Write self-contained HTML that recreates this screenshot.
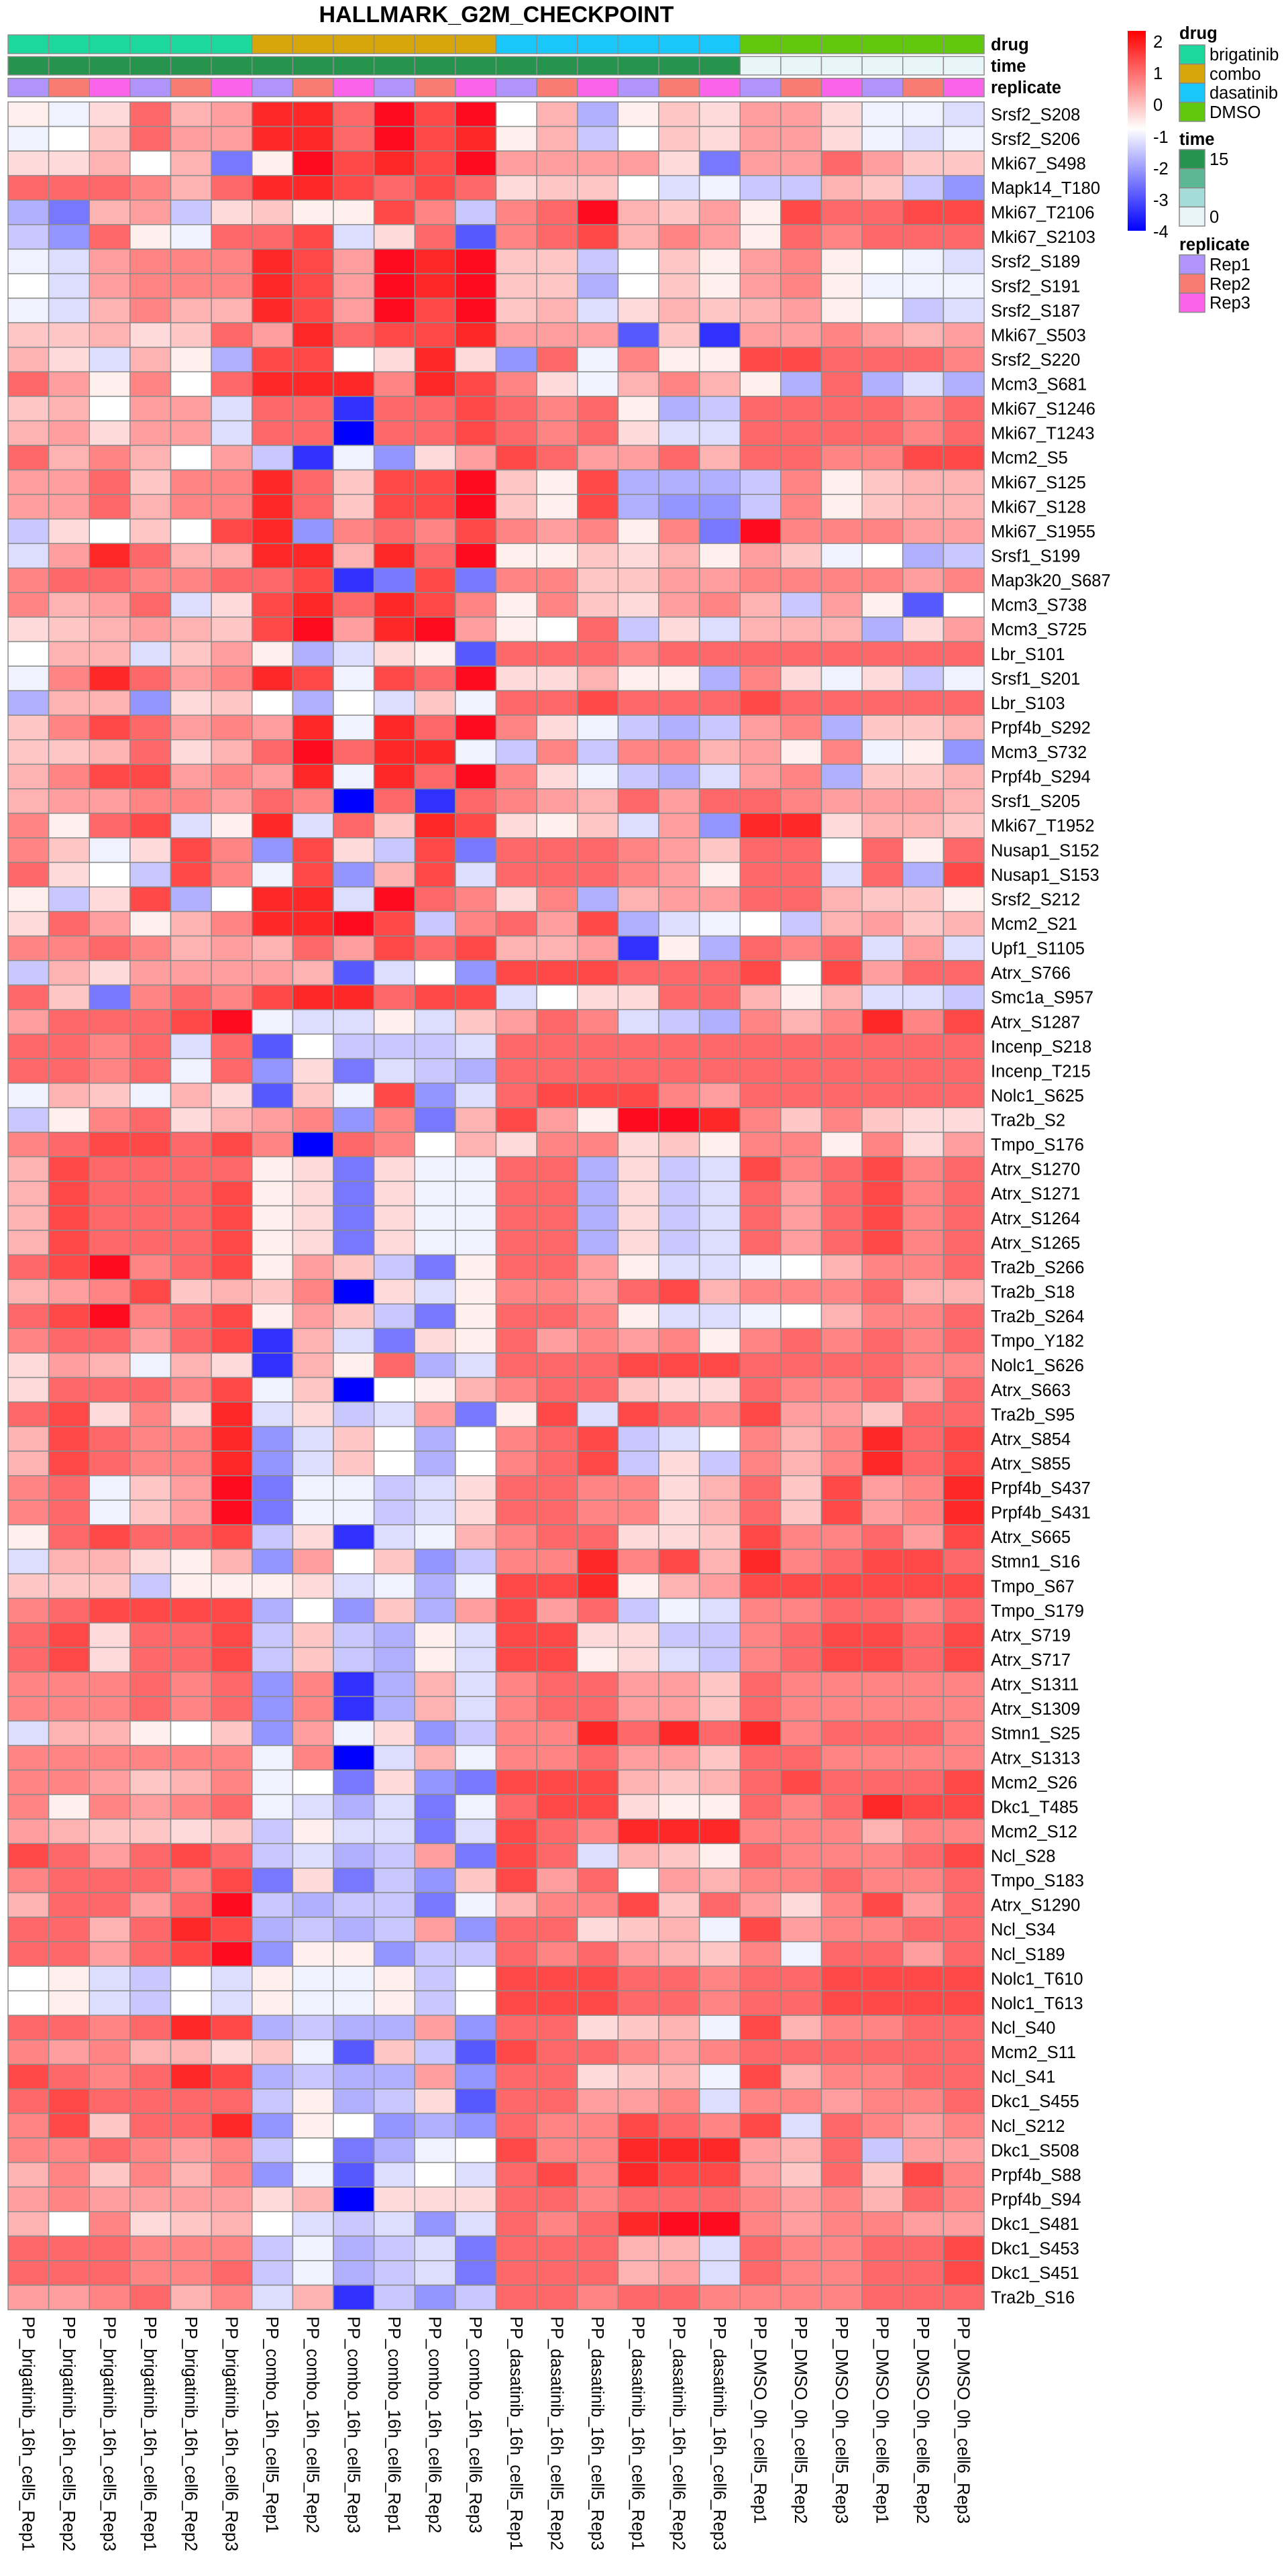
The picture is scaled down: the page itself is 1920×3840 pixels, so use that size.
<!DOCTYPE html>
<html><head><meta charset="utf-8">
<style>
html,body{margin:0;padding:0;background:#fff;}
svg{display:block;font-family:"Liberation Sans",Arial,sans-serif;}
</style></head>
<body>
<svg id="s" width="1920" height="3840" viewBox="0 0 1920 3840" xmlns="http://www.w3.org/2000/svg">
<defs>
<linearGradient id="cb" x1="0" y1="0" x2="0" y2="1">
<stop offset="0" stop-color="#FF0000"/>
<stop offset="0.49" stop-color="#FFFFFF"/>
<stop offset="1" stop-color="#0000FF"/>
</linearGradient>
</defs>
<text x="740" y="33" font-size="34" font-weight="bold" text-anchor="middle">HALLMARK_G2M_CHECKPOINT</text>
<g id="g"></g>
<!-- color bar -->
<rect x="1681" y="46" width="27" height="298" fill="url(#cb)"/>
<g font-size="25.5">
<text x="1719" y="71">2</text>
<text x="1719" y="118">1</text>
<text x="1719" y="165">0</text>
<text x="1719" y="213">-1</text>
<text x="1719" y="260">-2</text>
<text x="1719" y="307">-3</text>
<text x="1719" y="354">-4</text>
</g>
<g font-size="25.5">
<text x="1758" y="58" font-weight="bold">drug</text>
<rect x="1758" y="67" width="38" height="28.5" fill="#1DD89D" stroke="#888" stroke-width="1.5"/>
<rect x="1758" y="95.5" width="38" height="28.5" fill="#D6A60A" stroke="#888" stroke-width="1.5"/>
<rect x="1758" y="124" width="38" height="28.5" fill="#1AC7FB" stroke="#888" stroke-width="1.5"/>
<rect x="1758" y="152.5" width="38" height="28.5" fill="#62C80E" stroke="#888" stroke-width="1.5"/>
<text x="1803" y="90">brigatinib</text>
<text x="1803" y="119">combo</text>
<text x="1803" y="147">dasatinib</text>
<text x="1803" y="176">DMSO</text>
<text x="1758" y="216" font-weight="bold">time</text>
<rect x="1758" y="223" width="38" height="28.5" fill="#26944D" stroke="#888" stroke-width="1.5"/>
<rect x="1758" y="251.5" width="38" height="28.5" fill="#5BB794" stroke="#888" stroke-width="1.5"/>
<rect x="1758" y="280" width="38" height="28.5" fill="#A5DCDA" stroke="#888" stroke-width="1.5"/>
<rect x="1758" y="308.5" width="38" height="28.5" fill="#E9F6F9" stroke="#888" stroke-width="1.5"/>
<text x="1803" y="246">15</text>
<text x="1803" y="332">0</text>
<text x="1758" y="373" font-weight="bold">replicate</text>
<rect x="1758" y="380" width="38" height="28.5" fill="#B094FB" stroke="#888" stroke-width="1.5"/>
<rect x="1758" y="408.5" width="38" height="28.5" fill="#FA7B72" stroke="#888" stroke-width="1.5"/>
<rect x="1758" y="437" width="38" height="28.5" fill="#FB64EA" stroke="#888" stroke-width="1.5"/>
<text x="1803" y="403">Rep1</text>
<text x="1803" y="432">Rep2</text>
<text x="1803" y="460">Rep3</text>
</g>
</svg>
<script>
(function(){
var NS="http://www.w3.org/2000/svg";
var g=document.getElementById("g");
var X0=12,CW=60.625,Y0=152,RH=36.567;
var cmap={"0":"#FFFFFF","1":"#FFF0EE","2":"#FFDADA","3":"#FFC6C6","4":"#FFB2B2","5":"#FF9E9E","6":"#FF8585","7":"#FF6868","8":"#FF4848","9":"#FF2828","X":"#FF0A1E",
"a":"#F0F2FF","b":"#DDDDFF","c":"#C8C8FF","d":"#B0B0FF","e":"#9595FF","f":"#7878FF","g":"#5858FF","h":"#3030FF","i":"#0000FF"};
var rows=[
["Srsf2_S208","1a2745997X8X04d132552aab"],
["Srsf2_S206","a03755997X8914c032552aba"],
["Mki67_S498","22404f1X898X55552f557533"],
["Mapk14_T180","7776479987872330bacc43ce"],
["Mki67_T2106","df45c231186c67X435187788"],
["Mki67_S2103","ce71a778b27g678465176777"],
["Srsf2_S189","ab5666985X9X33c0315610ab"],
["Srsf2_S191","0b5666985X9X33d031561aaa"],
["Srsf2_S187","ab4644985X8X34b2434510cb"],
["Mki67_S503","334237597889555g3h556545"],
["Srsf2_S220","42b41d880292e7a611887776"],
["Mcm3_S681","75160799969862a4641d7dbd"],
["Mki67_S1246","34055b77h7787671dc777767"],
["Mki67_T1243","45255b77i7787672bb777767"],
["Mcm2_S5","746405chae25875574776688"],
["Mki67_S125","55736697388X318dddc61344"],
["Mki67_S128","55746697388X318deec61344"],
["Mki67_S1955","c203089e676865616fX66655"],
["Srsf1_S199","b5974499497X11324153a0dc"],
["Map3k20_S687","67766778hf8f663355666656"],
["Mcm3_S738","64 57b2897986".replace(" ","")+"1632564c51g0"],
["Mcm3_S725","2345438X59X5107c2b444d25"],
["Lbr_S101","044b351db21g777677777777"],
["Srsf1_S201","a6975698a87X22411d62a2ca"],
["Lbr_S103","d44e230d0b3a778777877777"],
["Prpf4b_S292","36875659a97X62acdc56d334"],
["Mcm3_S732","3347247X799ac6c664516a1e"],
["Prpf4b_S294","46885659a97X62acdb56d334"],
["Srsf1_S205","45566576i7h7654757765554"],
["Mki67_T1952","6178b19b7398213b5e992443"],
["Nusap1_S152","63a286e82c8f777653770717"],
["Nusap1_S153","720c86a8e48b77765177b7d8"],
["Srsf2_S212","1c28d099bX7626d455774331"],
["Mcm2_S21","27514699X8c6758dba0c4534"],
["Upf1_S1105","667645475878445h1d767b5b"],
["Atrx_S766","c4255554gb0e888777808577"],
["Smc1a_S957","73f676899788b02277414bbc"],
["Atrx_S1287","57778Xabb1b3576bcd646968"],
["Incenp_S218","7767b7g0cccb777777777777"],
["Incenp_T215","7767a7e2fbcd777777777777"],
["Nolc1_S625","a43a42g3a8eb788865777777"],
["Tra2b_S2","c1672456e6f4851XX9636322"],
["Tmpo_S176","6788786i7604266231661625"],
["Atrx_S1270","48777712f2aa77d2cb867867"],
["Atrx_S1271","48777812f2aa77d2cb757867"],
["Atrx_S1264","48777812f2aa77d2cb757867"],
["Atrx_S1265","48777812f2aa77d2cb757867"],
["Tra2b_S266","78X678153cf17751bba04667"],
["Tra2b_S18","45683436i2b1665784666744"],
["Tra2b_S264","78X678153cf17761bba04667"],
["Tmpo_Y182","677578h4bf21756561676767"],
["Nolc1_S626","254a42h417db777888777766"],
["Atrx_S663","277768a3i014677322766757"],
["Tra2b_S95","782629b2cb5f18b876855377"],
["Atrx_S854","487669eb30d0678cb0646978"],
["Atrx_S855","487669eb30d0678c2c646978"],
["Prpf4b_S437","67a35Xfaacb2776624738569"],
["Prpf4b_S431","67a35Xfaacb2776624738569"],
["Atrx_S665","178778c2hba4677223866758"],
["Stmn1_S16","b44214e503ec669684967887"],
["Tmpo_S67","333c1112bada889145888888"],
["Tmpo_S179","678888d0e3d5857cab667767"],
["Atrx_S719","782778c3cd1b8822cc678878"],
["Atrx_S717","782778c3cd1b8812bc678878"],
["Atrx_S1311","666767e6hd4b677553766666"],
["Atrx_S1309","666767e6hd4b677553766666"],
["Stmn1_S25","b44103e5a2ec669797967776"],
["Atrx_S1313","666666a6ib4a667553776666"],
["Mcm2_S26","665346a0f2ef888434787778"],
["Dkc1_T485","616567abdbfa788211767988"],
["Mcm2_S12","543323c1bbfb876999666466"],
["Ncl_S28","875787cbdc5f87b431766678"],
["Tmpo_S183","677768f2fce3857054667667"],
["Atrx_S1290","47757Xcdccfa466837526857"],
["Ncl_S34","774798dcdc5e77234a856677"],
["Ncl_S189","77578Xe11ecc7675436a7757"],
["Nolc1_T610","01bc0b1aa1c0888776778888"],
["Nolc1_T613","01bc0b1aa1c0888776778888"],
["Ncl_S40","776798dcdd5e77234a846677"],
["Mcm2_S11","6564423ag3cg877656777777"],
["Ncl_S41","876798dcdd5e77234a846677"],
["Dkc1_S455","787777c1dc2g77556b665667"],
["Ncl_S212","683779e10ede7668768b7656"],
["Dkc1_S508","667656c0fda0866999547c55"],
["Prpf4b_S88","463646eagb0b786988537386"],
["Prpf4b_S94","56555524i222776777656476"],
["Dkc1_S481","4062340bcbeb7679XX656655"],
["Dkc1_S453","777666cadcbf77744b766778"],
["Dkc1_S451","777667cadcbf77745b766778"],
["Tra2b_S16","556746b4hcec776776666777"]
];
function rect(x,y,w,h,f){var r=document.createElementNS(NS,"rect");r.setAttribute("x",x);r.setAttribute("y",y);r.setAttribute("width",w);r.setAttribute("height",h);r.setAttribute("fill",f);r.setAttribute("stroke","#8C8C8C");r.setAttribute("stroke-width","1.5");g.appendChild(r);}
function text(x,y,s,attrs){var t=document.createElementNS(NS,"text");t.setAttribute("x",x);t.setAttribute("y",y);t.setAttribute("font-size","25.5");for(var k in attrs)t.setAttribute(k,attrs[k]);t.textContent=s;g.appendChild(t);}
var drugC=["#1DD89D","#D6A60A","#1AC7FB","#62C80E"];
var repC=["#B094FB","#FA7B72","#FB64EA"];
for(var c=0;c<24;c++){
  var x=X0+c*CW;
  rect(x,52,CW,28,drugC[Math.floor(c/6)]);
  rect(x,84.3,CW,27.5,c<18?"#26944D":"#E9F6F9");
  rect(x,116.7,CW,27.5,repC[c%3]);
}
text(1477,75,"drug",{"font-weight":"bold"});
text(1477,107,"time",{"font-weight":"bold"});
text(1477,139,"replicate",{"font-weight":"bold"});
for(var r=0;r<rows.length;r++){
  var s=rows[r][1],y=Y0+r*RH;
  for(var c=0;c<24;c++){rect(X0+c*CW,y,CW,RH,cmap[s.charAt(c)]||"#FFFFFF");}
  text(1477,y+RH/2+9,rows[r][0],{});
}
var drugs=["brigatinib","brigatinib","brigatinib","brigatinib","brigatinib","brigatinib","combo","combo","combo","combo","combo","combo","dasatinib","dasatinib","dasatinib","dasatinib","dasatinib","dasatinib","DMSO","DMSO","DMSO","DMSO","DMSO","DMSO"];
for(var c=0;c<24;c++){
  var t=(c<18?"16h":"0h"),cell=(c%6<3?"cell5":"cell6"),rep="Rep"+(c%3+1);
  var lab="PP_"+drugs[c]+"_"+t+"_"+cell+"_"+rep;
  var cx=X0+c*CW+CW/2-9;
  var tt=document.createElementNS(NS,"text");
  tt.setAttribute("x",0);tt.setAttribute("y",0);tt.setAttribute("font-size","25.5");
  tt.setAttribute("transform","translate("+cx+",3453) rotate(90)");
  tt.textContent=lab;g.appendChild(tt);
}
})();
</script>
</body></html>
